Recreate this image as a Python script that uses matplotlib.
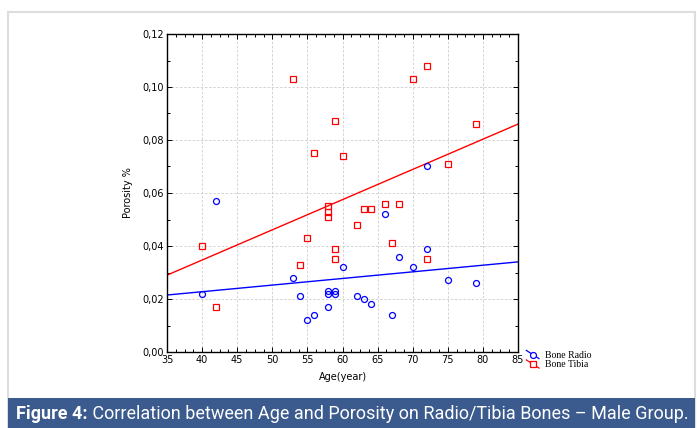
import numpy as np
import matplotlib
matplotlib.use('Agg')
import matplotlib.pyplot as plt
from matplotlib.patches import Rectangle
from matplotlib.lines import Line2D
from matplotlib.legend_handler import HandlerBase
from matplotlib.ticker import FuncFormatter, MultipleLocator

# Bone Radio (blue circles)
radio_age = [42, 40, 53, 54, 55, 56, 58, 58, 59, 58, 59, 60, 62, 63, 64, 66, 67, 68, 70, 72, 72, 75, 79]
radio_por = [0.057, 0.022, 0.028, 0.021, 0.012, 0.014, 0.017, 0.023, 0.023, 0.022, 0.022, 0.032,
             0.021, 0.020, 0.018, 0.052, 0.014, 0.036, 0.032, 0.039, 0.070, 0.027, 0.026]

# Bone Tibia (red squares)
tibia_age = [40, 42, 53, 54, 55, 56, 58, 58, 58, 59, 59, 59, 60, 62, 63, 64, 66, 67, 68, 70, 72, 72, 75, 79]
tibia_por = [0.040, 0.017, 0.103, 0.033, 0.043, 0.075, 0.055, 0.053, 0.051, 0.087, 0.039, 0.035,
             0.074, 0.048, 0.054, 0.054, 0.056, 0.041, 0.056, 0.103, 0.108, 0.035, 0.071, 0.086]

# fitted lines: (slope, intercept)
radio_fit = (0.00025, 0.01275)
tibia_fit = (0.00114, -0.0109)

x_range = [35, 85]
caption_bold = 'Figure 4:'
caption_rest = ' Correlation between Age and Porosity on Radio/Tibia Bones \u2013 Male Group.'

BLUE = '#0000ff'
RED = '#ff0000'


class DiagHandler(HandlerBase):
    # legend key drawn as a short diagonal line with the marker on it
    def create_artists(self, legend, orig, xdescent, ydescent, width, height, fontsize, trans):
        x0, x1 = -xdescent, -xdescent + width
        y0, y1 = -ydescent + height * 1.1, -ydescent - height * 0.1
        ln = Line2D([x0, x1], [y0, y1], color=orig.get_color(), lw=0.9, transform=trans)
        mk = Line2D([(x0 + x1) / 2], [(y0 + y1) / 2], marker=orig.get_marker(), ms=orig.get_markersize(),
                    mfc='white', mec=orig.get_color(), mew=0.9, ls='none', transform=trans)
        return [ln, mk]


fig = plt.figure(figsize=(6.97, 4.28), dpi=100)
ax = fig.add_axes([167 / 697, 1 - 352 / 428, 351 / 697, 318 / 428])

xs = np.array(x_range)
ax.plot(xs, radio_fit[0] * xs + radio_fit[1], color=BLUE, lw=1.0, zorder=2)
ax.plot(xs, tibia_fit[0] * xs + tibia_fit[1], color=RED, lw=1.0, zorder=2)

h1, = ax.plot(radio_age, radio_por, 'o', ms=4.3, mfc='none', mec=BLUE, mew=0.9, color=BLUE,
              label='Bone Radio', zorder=3)
h2, = ax.plot(tibia_age, tibia_por, 's', ms=4.3, mfc='none', mec=RED, mew=0.9, color=RED,
              label='Bone Tibia', zorder=3)

ax.set_xlim(35, 85)
ax.set_ylim(0, 0.12)
ax.xaxis.set_major_locator(MultipleLocator(5))
ax.xaxis.set_minor_locator(MultipleLocator(1.25))
ax.yaxis.set_major_locator(MultipleLocator(0.02))
ax.yaxis.set_minor_locator(MultipleLocator(0.01))
ax.yaxis.set_major_formatter(FuncFormatter(lambda v, p: f'{v:.2f}'.replace('.', ',')))

ax.grid(True, which='major', color='#cccccc', linestyle=(0, (3, 2)), lw=0.6)
ax.tick_params(which='both', direction='in', top=True, right=True, labelsize=7, width=0.7, pad=2)
ax.tick_params(which='major', length=3.5)
ax.tick_params(which='minor', length=2)
for s in ax.spines.values():
    s.set_linewidth(1.0)

ax.set_xlabel('Age(year)', fontsize=7, labelpad=5)
ax.set_ylabel('Porosity %', fontsize=7, labelpad=7)

leg = ax.legend(handles=[h1, h2], handler_map={Line2D: DiagHandler()}, loc='lower left',
                bbox_to_anchor=(1.01, -0.07), frameon=False, prop={'family': 'Liberation Serif', 'size': 7},
                handlelength=1.3, handletextpad=0.6, labelspacing=0.05, borderpad=0)

# outer frame and caption bar
fig.patches.append(Rectangle((8 / 697, 0), 687 / 697, 1 - 12 / 428, transform=fig.transFigure,
                             fill=False, edgecolor='#dddddd', lw=1.5))
fig.patches.append(Rectangle((8 / 697, 0), 687 / 697, 30 / 428, transform=fig.transFigure,
                             facecolor='#3b5a8e', edgecolor='none'))
t = fig.text(16 / 697, 14 / 428, caption_bold, color='white', fontsize=13, fontweight='bold',
             family='Roboto', va='center', ha='left')
fig.canvas.draw()
bb = t.get_window_extent()
fig.text(bb.x1 / fig.bbox.width, 14 / 428, caption_rest, color='white', fontsize=13,
         family='Roboto', va='center', ha='left')

fig.savefig('out.png', dpi=100)
